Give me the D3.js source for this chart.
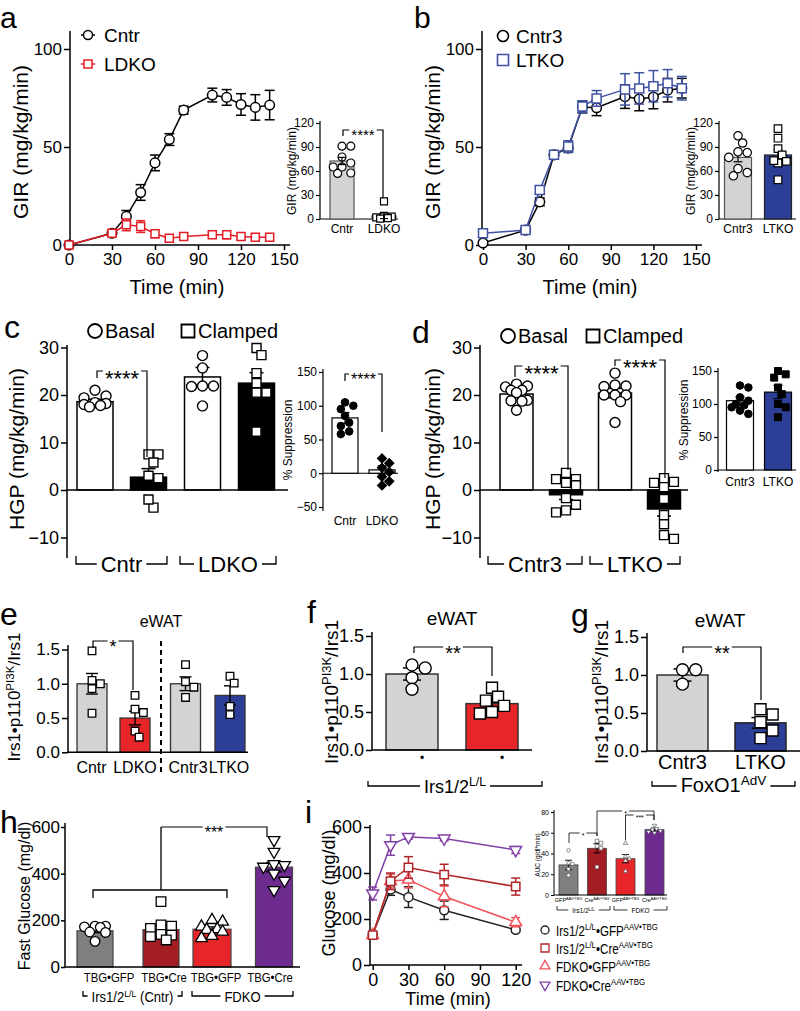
<!DOCTYPE html>
<html><head><meta charset="utf-8">
<script src="https://cdn.jsdelivr.net/npm/d3@7"></script>
<style>body{margin:0;background:#fff}svg{display:block}text{font-family:"Liberation Sans",Arial,Helvetica,sans-serif;fill:#000}</style>
</head><body><svg id="c" width="800" height="1011"></svg>
<script>
// ================= DATA =================
// Panel a (GIR time course)
const aTime=[0,30,40,50,60,70,80,100,110,120,130,140];
const aCntr=[0,6,14.6,26.8,41.9,53.8,68.8,76.5,75.3,71.7,70.2,71.4];
const aCntrErr=[0,1,3,4,4,3,2,3.5,4,5.5,6.5,7.5];
const aLDKO=[0,6,10.3,9.4,5.7,3.5,4.3,5.2,5.2,4.3,3.9,3.9];
const aLDKOErr=[0,1.5,3,3,2,1.5,1.5,1.5,2,1.5,1.5,1.5];
const timeTicks=[0,30,60,90,120,150];
const girTicks=[0,50,100];
// Panel a inset
const aInCats=['Cntr','LDKO'];
const aInMean=[72.5,4];
const aInErr=[4.5,3.5];
const aInCntrPts=[91,91,77.5,70,65,65,57.5,57];
const aInLDKOPts=[22,4,3,2,1,0.5];
const insetTicks=[0,30,60,90,120];
// Panel b
const bTime=[0,30,40,50,60,70,80,100,110,120,130,140];
const bCntr3=[1,7.6,22,46,49.5,70.4,70,75.7,74.5,75.5,79,80];
const bCntr3Err=[1,1,2,2,2,3,4,6,6,6,6,5];
const bLTKO=[6,7.6,28,46,50.2,70.6,74.8,79.4,79.9,81,82.5,80];
const bLTKOErr=[1,1,2,1,3,3,4,8,8,8,7,6];
// Panel b inset
const bInCats=['Cntr3','LTKO'];
const bInMean=[77,80];
const bInErr=[5.5,6.5];
const bInCntr3Pts=[104,95,83,84,77,63,58,54];
const bInLTKOPts=[113,101,88,80,72,70,73,49];
// Panel c (HGP)
const hgpTicks=[-10,0,10,20,30];
const cMean=[18.6,2.7,23.8,22.5];
const cErr=[0.5,1.8,2,2.2];
const cBasalCntr=[21,19.8,19.4,18.4,18.2,18,17.8,17.5];
const cClampCntr=[7.5,7.5,5.8,3,2.5,-3.7,-2];
const cBasalLDKO=[28.3,25.7,21.9,21.9,21.8,17.7];
const cClampLDKO=[29.9,28.4,24.6,20.5,20.5,22.5,12.3];
// Panel c inset (% suppression)
const supTicksC=[-50,0,50,100,150];
const cInMean=[82,5];
const cInErr=[8,6];
const cInCntrPts=[105,100,95,85,75,70,62,58];
const cInLDKOPts=[22,15,8,2,-5,-12,-18];
// Panel d
const dMean=[20.2,-1,20.4,-4];
const dErr=[0.6,1,1,1.5];
const dBasalCntr3=[22.3,21.9,21.7,21,21,20.5,18.9,18.8,18.7,16.8];
const dClampCntr3=[3.6,2.3,2.3,1,1.5,-1.7,-3.1,-4.7,-4.3];
const dBasalLTKO=[24.6,22.1,21.9,21.8,20,20,20,18.6,14.2];
const dClampLTKO=[2.5,1.7,0.6,1.5,-1.9,-5.3,-7.2,-9.5,-10.3];
// Panel d inset
const supTicksD=[0,50,100,150];
const dInCats=['Cntr3','LTKO'];
const dInMean=[105,118];
const dInErr=[6,10];
const dInCntr3Pts=[128,125,110,105,100,98,95,90,85];
const dInLTKOPts=[150,145,140,125,115,100,95,80];
// Panel e
const ratioTicks=[0,0.5,1,1.5];
const eCats=['Cntr','LDKO','Cntr3','LTKO'];
const eMean=[1.0,0.5,1.0,0.83];
const eErr=[0.15,0.1,0.1,0.14];
const ePts=[[1.48,1.05,1.0,0.93,0.57],[0.83,0.63,0.58,0.31,0.22],[1.28,1.03,0.95,0.8],[1.11,1.01,0.67,0.55]];
// Panel f
const fMean=[1.0,0.61];
const fErr=[0.08,0.06];
const fPts=[[1.12,1.08,0.95,0.8],[0.82,0.7,0.65,0.58,0.5,0.48]];
// Panel g
const gCats=['Cntr3','LTKO'];
const gMean=[1.0,0.37];
const gErr=[0.08,0.07];
const gPts=[[1.07,1.07,0.88],[0.55,0.48,0.38,0.27,0.17]];
// Panel h (fasting glucose)
const gluTicks=[0,200,400,600];
const hCats=['TBG•GFP','TBG•Cre','TBG•GFP','TBG•Cre'];
const hMean=[155,160,162,428];
const hErr=[8,18,10,20];
const hPts=[[175,172,175,170,150,148,110],[280,180,175,165,140,137,130,116],[201,194,173,162,159,151,133,123],[544,494,441,437,430,401,370,330]];
// Panel i (GTT)
const iTime=[0,15,30,60,120];
const iTimeTicks=[0,30,60,90,120];
const iGFP=[133,328,295,238,153];
const iGFPErr=[8,25,45,40,10];
const iCre=[130,364,424,393,341];
const iCreErr=[8,36,47,45,37];
const iFGFP=[130,365,371,298,186];
const iFGFPErr=[8,30,36,45,20];
const iFCre=[311,521,557,550,500];
const iFCreErr=[28,44,10,10,15];
// Panel i inset (AUC)
const aucTicks=[0,20,40,60,80];
const aucMean=[29,45,35,63];
const aucErr=[4.5,4.5,4,1.5];
const aucPts=[[43,31,30,25,19],[52,50,47,45,27],[50,37,35,33,23],[67,64,63,62,61,60]];

// ================= HELPERS =================
const FONT='"Liberation Sans", Arial, Helvetica, sans-serif';
const svg=d3.select('#c');
const root=svg.append('g');

function T(g,x,y,s,fs,anchor){return g.append('text').attr('x',x).attr('y',y).attr('font-size',fs).attr('text-anchor',anchor||'start').text(s);}
function rich(g,x,y,parts,fs,anchor,rot,sx){
  const t=g.append('text').attr('font-size',fs).attr('text-anchor',anchor||'start');
  if(rot) t.attr('transform',`translate(${x},${y}) rotate(-90)`);
  else if(sx) t.attr('transform',`translate(${x},${y}) scale(${sx},1)`);
  else t.attr('x',x).attr('y',y);
  parts.forEach(p=>{const s=t.append('tspan').text(p[0]); if(p[1]) s.attr('baseline-shift','super').attr('font-size',fs*0.68);});
  return t;
}
function rotLabel(g,x,y,s,fs){return g.append('text').attr('transform',`translate(${x},${y}) rotate(-90)`).attr('font-size',fs).attr('text-anchor','middle').text(s);}
function line(g,x1,y1,x2,y2,c,sw,dash){const l=g.append('line').attr('x1',x1).attr('y1',y1).attr('x2',x2).attr('y2',y2).attr('stroke',c||'#000').attr('stroke-width',sw||1.5);if(dash)l.attr('stroke-dasharray',dash);return l;}
function yAxis(g,y,x,ticks,fmt,fs,top,bot,tl,sw,pad){
  tl=tl||6; sw=sw||1.5;
  const a=g.append('g').attr('transform',`translate(${x},0)`)
    .call(d3.axisLeft(y).tickValues(ticks).tickFormat(fmt).tickSize(tl).tickPadding(pad===undefined?2:pad));
  a.select('.domain').remove();
  a.selectAll('.tick line').attr('stroke','#000').attr('stroke-width',sw);
  a.selectAll('.tick text').attr('font-size',fs).attr('font-family',FONT).attr('fill','#000');
  line(g,x,top,x,bot,'#000',sw);
}
function xAxis(g,x,y,ticks,fs,left,right,tl,sw){
  tl=tl||5; sw=sw||1.5;
  const a=g.append('g').attr('transform',`translate(0,${y})`)
    .call(d3.axisBottom(x).tickValues(ticks).tickSize(tl).tickPadding(3));
  a.select('.domain').remove();
  a.selectAll('.tick line').attr('stroke','#000').attr('stroke-width',sw);
  a.selectAll('.tick text').attr('font-size',fs).attr('font-family',FONT).attr('fill','#000');
  line(g,left,y,right,y,'#000',sw);
}
const SH={circle:d3.symbolCircle,square:d3.symbolSquare,tri:d3.symbolTriangle,tridown:d3.symbolTriangle,diamond:d3.symbolSquare};
function pt(g,shape,x,y,r,fill,stroke,sw){
  let size;
  if(shape==='circle') size=Math.PI*r*r; else if(shape==='square'||shape==='diamond') size=4*r*r; else size=r*r*2.6;
  let tr=`translate(${x},${y})`; if(shape==='tridown') tr+=' rotate(180)'; if(shape==='diamond') tr+=' rotate(45)';
  return g.append('path').attr('d',d3.symbol(SH[shape],size)()).attr('transform',tr).attr('fill',fill).attr('stroke',stroke).attr('stroke-width',sw||1.3);
}
function swarm(vals,y,d,maxOff){
  const order=d3.range(vals.length).sort((a,b)=>vals[b]-vals[a]);
  const placed=[]; const dx=new Array(vals.length).fill(0);
  order.forEach(i=>{
    const py=y(vals[i]); let best=0,bestD=-1;
    for(let k=0;k<24;k++){
      const c=(k%2?1:-1)*Math.ceil(k/2)*d*0.55;
      if(Math.abs(c)>maxOff) continue;
      const md=placed.length?d3.min(placed,p=>Math.hypot(p[0]-c,p[1]-py)):1e9;
      if(md>=d*0.95){best=c;bestD=1e9;break;}
      if(md>bestD){bestD=md;best=c;}
    }
    dx[i]=best; placed.push([best,py]);
  });
  return dx;
}
function bar(g,cx,w,y,v,fill,stroke,sw){
  const y0=y(0),yv=y(v);
  g.append('rect').attr('x',cx-w/2).attr('y',Math.min(y0,yv)).attr('width',w).attr('height',Math.abs(y0-yv)).attr('fill',fill).attr('stroke',stroke||'#000').attr('stroke-width',sw||1.5);
}
function err(g,cx,y,v,e,cw,c,sw){
  c=c||'#000'; sw=sw||1.5;
  line(g,cx,y(v-e),cx,y(v+e),c,sw);
  line(g,cx-cw/2,y(v+e),cx+cw/2,y(v+e),c,sw);
  line(g,cx-cw/2,y(v-e),cx+cw/2,y(v-e),c,sw);
}
function points(g,cx,y,vals,shape,r,fill,stroke,maxOff,sw){
  const dx=swarm(vals,y,2*r,maxOff);
  vals.forEach((v,i)=>pt(g,shape,cx+dx[i],y(v),r,fill,stroke,sw));
}
function sig(g,x1,x2,yt,b1,b2,label,fs,sw){
  sw=sw||1.2; const cx=(x1+x2)/2;
  const t=T(g,cx,yt+fs*0.66,label,fs,'middle');
  const w=t.node().getComputedTextLength();
  g.append('path').attr('d',`M${x1},${b1}V${yt}H${cx-w/2-2}M${cx+w/2+2},${yt}H${x2}V${b2}`).attr('fill','none').attr('stroke','#000').attr('stroke-width',sw);
}
function grp(g,x1,x2,y,parts,fs,tick,sw,ty,sx){
  sw=sw||1.3; const cx=(x1+x2)/2;
  const t=rich(g,cx,ty!==undefined?ty:y+fs*0.36,parts,fs,'middle',false,sx);
  const w=t.node().getComputedTextLength()*(sx||1);
  g.append('path').attr('d',`M${x1},${y-tick}V${y}H${cx-w/2-4}M${cx+w/2+4},${y}H${x2}V${y-tick}`).attr('fill','none').attr('stroke','#000').attr('stroke-width',sw);
}
function series(g,x,y,ts,vs,es,color,shape,r,cw){
  const ln=d3.line().x((d,i)=>x(ts[i])).y(d=>y(d));
  g.append('path').attr('d',ln(vs)).attr('fill','none').attr('stroke',color).attr('stroke-width',1.5);
  vs.forEach((v,i)=>{ if(es[i]>0) err(g,x(ts[i]),y,v,es[i],cw,color,1.5); });
  vs.forEach((v,i)=>pt(g,shape,x(ts[i]),y(v),r,'#fff',color,1.5));
}
const f1=d3.format('d'), f1d=d3.format('.1f');
const GRAY='#d3d3d3', RED='#e8262a', BLUE='#2d3e97', BLUEL='#3f51a3';

// ================= PANEL a =================
{
  const g=root.append('g');
  T(g,0,28,'a',30);
  const x=d3.scaleLinear([0,150],[69,284]);
  const y=d3.scaleLinear([0,100],[245,49]);
  yAxis(g,y,70,girTicks,f1,17,31,245);
  xAxis(g,x,245,timeTicks,17,69,290);
  rotLabel(g,28,142,'GIR (mg/kg/min)',21);
  T(g,177,294,'Time (min)',20,'middle');
  series(g,x,y,aTime,aCntr,aCntrErr,'#000','circle',4.8,10);
  series(g,x,y,aTime,aLDKO,aLDKOErr,'#e41e26','square',4,9);
  line(g,81,35,95,35,'#000',1.5); pt(g,'circle',88,35,4.5,'#fff','#000',1.5); T(g,104,42,'Cntr',19);
  line(g,81,64,95,64,'#e41e26',1.5); pt(g,'square',88,64,4,'#fff','#e41e26',1.5); T(g,104,71,'LDKO',19);
  // inset
  const yi=d3.scaleLinear([0,120],[219,123]);
  const xc=[342,384];
  yAxis(g,yi,320,insetTicks,f1,12,121,219,4,1.2);
  line(g,320,219,398,219,'#000',1.2);
  bar(g,xc[0],24,yi,aInMean[0],GRAY,'#555',1.2);
  bar(g,xc[1],24,yi,aInMean[1],RED,'#555',1.2);
  points(g,xc[0],yi,aInCntrPts,'circle',4,'#fff','#000',10,1.2);
  points(g,xc[1],yi,aInLDKOPts,'square',3.5,'#fff','#000',10,1.2);
  aInMean.forEach((m,i)=>err(g,xc[i],yi,m,aInErr[i],8,'#000',1.2));
  aInCats.forEach((c,i)=>T(g,xc[i],233,c,12,'middle'));
  rotLabel(g,296,171,'GIR (mg/kg/min)',12);
  sig(g,343,383,130,136,198,'****',15);
}
// ================= PANEL b =================
{
  const g=root.append('g');
  T(g,414,28,'b',30);
  const x=d3.scaleLinear([0,150],[483,696]);
  const y=d3.scaleLinear([0,100],[245,49]);
  yAxis(g,y,482,girTicks,f1,17,31,245);
  xAxis(g,x,245,timeTicks,17,482,702);
  rotLabel(g,440,142,'GIR (mg/kg/min)',21);
  T(g,590,294,'Time (min)',20,'middle');
  series(g,x,y,bTime,bCntr3,bCntr3Err,'#000','circle',4.8,10);
  series(g,x,y,bTime,bLTKO,bLTKOErr,BLUEL,'square',4.5,10);
  pt(g,'circle',503,36,5.5,'#fff','#000',1.6); T(g,516,43,'Cntr3',19);
  pt(g,'square',503,60,5.5,'#fff',BLUEL,1.6); T(g,516,67,'LTKO',19);
  const yi=d3.scaleLinear([0,120],[219,123]);
  const xc=[738,778];
  yAxis(g,yi,719,insetTicks,f1,12,121,219,4,1.2);
  line(g,719,219,796,219,'#000',1.2);
  bar(g,xc[0],27,yi,bInMean[0],GRAY,'#555',1.2);
  bar(g,xc[1],27,yi,bInMean[1],BLUE,'#222',1.2);
  bInMean.forEach((m,i)=>err(g,xc[i],yi,m,bInErr[i],9,'#000',1.2));
  points(g,xc[0],yi,bInCntr3Pts,'circle',4.2,'#fff','#000',11,1.2);
  points(g,xc[1],yi,bInLTKOPts,'square',3.8,'#fff','#000',11,1.2);
  bInCats.forEach((c,i)=>T(g,xc[i],233,c,12,'middle'));
  rotLabel(g,695,171,'GIR (mg/kg/min)',12);
}
// ================= PANEL c =================
{
  const g=root.append('g');
  T(g,4,338,'c',32);
  const y=d3.scaleLinear([-10,30],[537.5,347.5]);
  const xc=[95,148.5,202.5,256.5];
  yAxis(g,y,67,hgpTicks,f1,18,345,558);
  bar(g,xc[0],36,y,cMean[0],'#fff');
  bar(g,xc[1],36,y,cMean[1],'#000');
  bar(g,xc[2],36,y,cMean[2],'#fff');
  bar(g,xc[3],36,y,cMean[3],'#000');
  line(g,67,y(0),288,y(0),'#000',1.5);
  cMean.forEach((m,i)=>err(g,xc[i],y,m,cErr[i],14,'#000',1.5));
  points(g,xc[0],y,cBasalCntr,'circle',5,'#fff','#000',14,1.4);
  points(g,xc[1],y,cClampCntr,'square',4.5,'#fff','#000',14,1.4);
  points(g,xc[2],y,cBasalLDKO,'circle',5,'#fff','#000',14,1.4);
  points(g,xc[3],y,cClampLDKO,'square',4.5,'#fff','#000',14,1.4);
  pt(g,'circle',95,331,7,'#fff','#000',1.8); T(g,105,338,'Basal',20);
  pt(g,'square',188,331,6.5,'#fff','#000',1.8); T(g,198,338,'Clamped',20);
  sig(g,97,147,371,378,457,'****',22);
  rotLabel(g,24,449,'HGP (mg/kg/min)',21);
  grp(g,76,167,564,[['Cntr']],22,8);
  grp(g,180,276,564,[['LDKO']],22,8);
  // inset
  const yi=d3.scaleLinear([-50,150],[507,372]);
  const xi=[345,382];
  yAxis(g,yi,323,supTicksC,f1,12,369,511,4,1.2);
  line(g,323,yi(0),398,yi(0),'#000',1.2);
  bar(g,xi[0],26,yi,cInMean[0],'#fff','#000',1.2);
  bar(g,xi[1],26,yi,cInMean[1],'#fff','#000',1.2);
  cInMean.forEach((m,i)=>err(g,xi[i],yi,m,cInErr[i],9,'#000',1.2));
  points(g,xi[0],yi,cInCntrPts,'circle',3.8,'#000','#000',10,1);
  points(g,xi[1],yi,cInLDKOPts,'diamond',3.3,'#000','#000',10,1);
  T(g,xi[0],525,'Cntr',12,'middle'); T(g,xi[1],525,'LDKO',12,'middle');
  rotLabel(g,292,440,'% Suppression',12);
  sig(g,345,382,374,381,432,'****',16);
}
// ================= PANEL d =================
{
  const g=root.append('g');
  T(g,412,343,'d',32);
  const y=d3.scaleLinear([-10,30],[537.5,347.5]);
  const xc=[516.5,566,615,664];
  yAxis(g,y,480,hgpTicks,f1,18,345,558);
  bar(g,xc[0],33,y,dMean[0],'#fff');
  bar(g,xc[1],33,y,dMean[1],'#000');
  bar(g,xc[2],33,y,dMean[2],'#fff');
  bar(g,xc[3],33,y,dMean[3],'#000');
  line(g,480,y(0),688,y(0),'#000',1.5);
  dMean.forEach((m,i)=>err(g,xc[i],y,m,dErr[i],14,'#000',1.5));
  points(g,xc[0],y,dBasalCntr3,'circle',5,'#fff','#000',14,1.4);
  points(g,xc[1],y,dClampCntr3,'square',4.5,'#fff','#000',14,1.4);
  points(g,xc[2],y,dBasalLTKO,'circle',5,'#fff','#000',14,1.4);
  points(g,xc[3],y,dClampLTKO,'square',4.5,'#fff','#000',14,1.4);
  pt(g,'circle',508,336,7,'#fff','#000',1.8); T(g,518,343,'Basal',20);
  pt(g,'square',593,336,6.5,'#fff','#000',1.8); T(g,603,343,'Clamped',20);
  sig(g,515,568,366,377,470,'****',22);
  sig(g,615,665,360,366,478,'****',22);
  rotLabel(g,440,449,'HGP (mg/kg/min)',21);
  grp(g,488,582,564,[['Cntr3']],22,8);
  grp(g,590,680,564,[['LTKO']],22,8);
  // inset
  const yi=d3.scaleLinear([0,150],[470,371]);
  const xi=[740,778];
  yAxis(g,yi,718,supTicksD,f1,12,368,472,4,1.2);
  line(g,718,yi(0),796,yi(0),'#000',1.2);
  bar(g,xi[0],27,yi,dInMean[0],'#fff','#000',1.2);
  bar(g,xi[1],27,yi,dInMean[1],BLUE,'#000',1.2);
  dInMean.forEach((m,i)=>err(g,xi[i],yi,m,dInErr[i],9,'#000',1.2));
  points(g,xi[0],yi,dInCntr3Pts,'circle',3.8,'#000','#000',11,1);
  points(g,xi[1],yi,dInLTKOPts,'square',3.5,'#000','#000',11,1);
  dInCats.forEach((c,i)=>T(g,xi[i],486,c,12,'middle'));
  rotLabel(g,688,420,'% Suppression',12);
}
// ================= PANEL e =================
{
  const g=root.append('g');
  T(g,0,625,'e',32);
  const y=d3.scaleLinear([0,1.5],[752.3,649.5]);
  const xc=[92,135,185.5,230];
  const lx=[91.5,135,188,229];
  const fills=[GRAY,RED,GRAY,BLUE];
  yAxis(g,y,68,ratioTicks,f1d,17,645,752);
  xc.forEach((c,i)=>bar(g,c,30,y,eMean[i],fills[i],'#333',1.3));
  line(g,68,752.3,248,752.3,'#000',1.5);
  xc.forEach((c,i)=>err(g,c,y,eMean[i],eErr[i],12,'#000',1.4));
  xc.forEach((c,i)=>points(g,c,y,ePts[i],'square',3.8,'#fff','#000',11,1.3));
  line(g,161,641,161,772,'#000',2,'5,4');
  eCats.forEach((c,i)=>T(g,lx[i],773,c,16,'middle'));
  T(g,161,627,'eWAT',16,'middle');
  sig(g,93,133,641,648,690,'*',18);
  rich(g,20,697,[['Irs1•p110'],['PI3K',1],['/Irs1']],17,'middle',true);
}
// ================= PANEL f =================
{
  const g=root.append('g');
  T(g,307,623,'f',32);
  const y=d3.scaleLinear([0,1.5],[750,636]);
  const xc=[412,492];
  yAxis(g,y,372,ratioTicks,f1d,18,632,750);
  bar(g,xc[0],52,y,fMean[0],GRAY,'#333',1.5);
  bar(g,xc[1],52,y,fMean[1],RED,'#333',1.5);
  line(g,372,750,532,750,'#000',1.5);
  xc.forEach((c,i)=>err(g,c,y,fMean[i],fErr[i],18,'#000',1.5));
  points(g,xc[0],y,fPts[0],'circle',6,'#fff','#000',16,1.4);
  points(g,xc[1],y,fPts[1],'square',5.5,'#fff','#000',18,1.4);
  xc.forEach(c=>T(g,c+10,762,'•',12,'middle'));
  T(g,452,625,'eWAT',19,'middle');
  sig(g,414,492,647,653,676,'**',20);
  grp(g,368,542,786,[['Irs1/2'],['L/L',1]],18,5,1.3,793);
  rich(g,338,692,[['Irs1•p110'],['PI3K',1],['/Irs1']],19,'middle',true);
}
// ================= PANEL g =================
{
  const g=root.append('g');
  T(g,571,626,'g',32);
  const y=d3.scaleLinear([0,1.5],[751,637]);
  const xc=[682.5,760.5];
  yAxis(g,y,647,ratioTicks,f1d,18,633,751);
  bar(g,xc[0],51,y,gMean[0],GRAY,'#333',1.5);
  bar(g,xc[1],51,y,gMean[1],BLUE,'#222',1.5);
  line(g,647,751,800,751,'#000',1.5);
  xc.forEach((c,i)=>err(g,c,y,gMean[i],gErr[i],18,'#000',1.5));
  points(g,xc[0],y,gPts[0],'circle',6,'#fff','#000',16,1.4);
  points(g,xc[1],y,gPts[1],'square',5.5,'#fff','#000',18,1.4);
  gCats.forEach((c,i)=>T(g,xc[i],769,c,20,'middle'));
  T(g,720,627,'eWAT',19,'middle');
  sig(g,683,761,647,653,700,'**',20);
  grp(g,652,795,786,[['FoxO1'],['AdV',1]],20,5,1.3,792);
  rich(g,608,692,[['Irs1•p110'],['PI3K',1],['/Irs1']],19,'middle',true);
}
// ================= PANEL h =================
{
  const g=root.append('g');
  T(g,0,833,'h',32);
  const y=d3.scaleLinear([0,600],[967,827]);
  const xc=[95,161,212,274];
  const bw=[36,36,38,37];
  const lx=[109,164,216,270];
  const fills=['#7f7f7f','#a31d22',RED,'#6d2a8f'];
  const shapes=['circle','square','tri','tridown'];
  yAxis(g,y,65,gluTicks,f1,17,823,967,4,1.5,1);
  xc.forEach((c,i)=>bar(g,c,bw[i],y,hMean[i],fills[i],'#444',1.2));
  line(g,65,967,300,967,'#000',1.5);
  xc.forEach((c,i)=>err(g,c,y,hMean[i],hErr[i],16,'#000',1.3));
  xc.forEach((c,i)=>points(g,c,y,hPts[i],shapes[i],4.8,'#fff','#000',15,1.3));
  hCats.forEach((c,i)=>rich(g,lx[i],982,[[c]],13.5,'middle',false,0.84));
  rotLabel(g,30,896,'Fast Glucose (mg/dl)',16);
  // significance
  g.append('path').attr('d',`M93,898V890H227V898M161,890V827`).attr('fill','none').attr('stroke','#000').attr('stroke-width',1.3);
  sig(g,161,267,827,827,837,'***',16);
  grp(g,83,182,996,[['Irs1/2'],['L/L',1],[' (Cntr)']],14.5,5,1.3,1002,0.9);
  grp(g,192,293,996,[['FDKO']],14.5,5,1.3,1002,0.9);
}
// ================= PANEL i =================
{
  const g=root.append('g');
  T(g,305,823,'i',32);
  const x=d3.scaleLinear([0,120],[372.7,515.7]);
  const y=d3.scaleLinear([0,600],[965,827]);
  yAxis(g,y,370,gluTicks,f1,18,825,965);
  xAxis(g,x,965,iTimeTicks,18,370,522);
  rotLabel(g,335,893,'Glucose (mg/dl)',18);
  T(g,448,1005,'Time (min)',18,'middle');
  series(g,x,y,iTime,iGFP,iGFPErr,'#222','circle',4.5,9);
  series(g,x,y,iTime,iFGFP,iFGFPErr,'#f0535a','tri',4.8,9);
  series(g,x,y,iTime,iCre,iCreErr,'#b0262b','square',4.2,9);
  series(g,x,y,iTime,iFCre,iFCreErr,'#8040a8','tridown',4.8,9);
  // legend
  const leg=[['#222','circle',[['Irs1/2'],['L/L',1],['•GFP'],['AAV•TBG',1]]],
             ['#b0262b','square',[['Irs1/2'],['L/L',1],['•Cre'],['AAV•TBG',1]]],
             ['#f0535a','tri',[['FDKO•GFP'],['AAV•TBG',1]]],
             ['#8040a8','tridown',[['FDKO•Cre'],['AAV•TBG',1]]]];
  const ly=[931,949,967,986];
  leg.forEach((l,i)=>{pt(g,l[1],545,ly[i]-1,4,'#fff',l[0],1.3); rich(g,556,ly[i]+5,l[2],14.5,'start',false,0.8);});
  // inset AUC
  const yi=d3.scaleLinear([0,80],[895,812]);
  const xi=[568.5,597,625.5,654.5];
  const fills=['#7f7f7f','#a31d22',RED,'#6d2a8f'];
  const shapes=['circle','square','tri','tridown'];
  yAxis(g,yi,554,aucTicks,f1,7,810,895,3,1);
  xi.forEach((c,i)=>bar(g,c,19,yi,aucMean[i],fills[i],'#444',0.8));
  line(g,554,895,667,895,'#000',1);
  xi.forEach((c,i)=>err(g,c,yi,aucMean[i],aucErr[i],7,'#000',0.9));
  xi.forEach((c,i)=>points(g,c,yi,aucPts[i],shapes[i],1.8,'#fff','#444',6,0.6));
  const auL=[[['GFP'],['AAV•TBG',1]],[['Cre'],['AAV•TBG',1]],[['GFP'],['AAV•TBG',1]],[['Cre'],['AAV•TBG',1]]];
  xi.forEach((c,i)=>rich(g,c,902,auL[i],5.5,'middle'));
  grp(g,557,610,910,[['Irs1/2'],['L/L',1]],6.5,4,0.8,913);
  grp(g,614,667,910,[['FDKO']],6.5,4,0.8,913);
  rotLabel(g,540,855,'AUC (g/dl*min)',6.5);
  sig(g,569,597,833,843,836,'*',7,0.8);
  sig(g,597,654,811,836,820,'*',7,0.8);
  sig(g,625.5,654,815,840,820,'***',7,0.8);
}
</script></body></html>
